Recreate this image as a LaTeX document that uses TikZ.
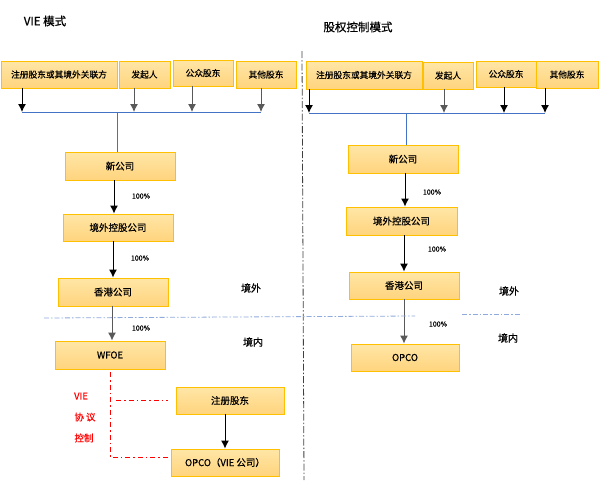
\documentclass[tikz,border=0pt]{standalone}
\usepackage{fontspec}
\setmainfont{Noto Sans CJK SC}[FakeBold=0.6]
\usetikzlibrary{arrows.meta}
\definecolor{boxline}{HTML}{FFC000}
\definecolor{boxtop}{HTML}{FFE6A6}
\definecolor{boxbot}{HTML}{FFD47E}
\definecolor{busblue}{HTML}{4472C4}
\definecolor{lineblue}{HTML}{8FAADC}
\definecolor{ctrlred}{HTML}{FF0000}
\definecolor{shaftgray}{HTML}{595959}

\begin{document}
\begin{tikzpicture}[x=1pt,y=-1pt,
    box/.style={draw=boxline,line width=0.9pt,top color=boxtop,bottom color=boxbot,
      inner sep=0pt,minimum height=27pt,font=\fontsize{9.5}{11}\selectfont},
    topbox/.style={box,font=\fontsize{8.7}{10}\selectfont},
    arr/.style={-{Latex[length=8pt,width=8pt]},line width=1pt},
    grayarr/.style={arr,draw=shaftgray},
    bus/.style={draw=busblue,line width=0.8pt},
    pct/.style={font=\fontsize{7}{8}\selectfont},
    side/.style={font=\fontsize{10}{12}\selectfont},
    title/.style={font=\fontsize{11.5}{13}\selectfont},
    divide/.style={draw=lineblue,line width=0.8pt,dash pattern=on 5pt off 2pt on 1.5pt off 2pt},
    sep/.style={draw=black!75,line width=0.8pt,dash pattern=on 7pt off 2pt on 1.5pt off 2pt},
    ctrl/.style={draw=ctrlred,line width=0.8pt,dash pattern=on 5pt off 3pt on 1.5pt off 3pt},
    ctrltext/.style={text=ctrlred,font=\fontsize{9.5}{11}\selectfont}]
  \useasboundingbox (0,0) rectangle (604,480);

  \node[title] (tvie) at (45,21) {VIE 模式};
  \node[title] (tgq) at (358,27) {股权控制模式};

  \draw[sep] (302,51) -- (304,480);

  % VIE
  \node[topbox,minimum width=116pt] (lsh1) at (59,74.5) {注册股东或其境外关联方};
  \node[topbox,minimum width=51pt] (lsh2) at (144.5,74.5) {发起人};
  \node[topbox,minimum width=60pt,minimum height=26pt] (lsh3) at (203,73) {公众股东};
  \node[topbox,minimum width=60pt] (lsh4) at (266,74.5) {其他股东};

  \coordinate (lbus1) at (22,112);
  \coordinate (lbus2) at (134,112);
  \coordinate (lbus3) at (192,112);
  \coordinate (lbus4) at (261,112);
  \draw[arr] (lsh1.south -| lbus1) -- (lbus1);
  \draw[grayarr] (lsh2.south -| lbus2) -- (lbus2);
  \draw[grayarr] (lsh3.south -| lbus3) -- (lbus3);
  \draw[grayarr] (lsh4.south -| lbus4) -- (lbus4);
  \draw[bus] (lbus1) -- (lbus4);

  \node[box,minimum width=110pt,minimum height=28pt] (ln1) at (120,166) {新公司};
  \node[box,minimum width=110pt] (lh) at (118,227.5) {境外控股公司};
  \node[box,minimum width=110pt,minimum height=28pt] (lk) at (113,292) {香港公司};
  \node[box,minimum width=110pt,minimum height=28pt] (lw) at (110,355) {WFOE};
  \node[box,minimum width=108pt] (lr) at (230,400.5) {注册股东};
  \node[box,minimum width=108pt] (lo) at (225,462.5) {OPCO（VIE 公司）};

  \draw[bus] ([xshift=-3pt]ln1.north) -- ([xshift=-3pt]ln1.north |- lbus1);
  \draw[arr] ([xshift=-6pt]ln1.south) -- ([xshift=-6pt]ln1.south |- lh.north);
  \draw[arr] ([xshift=-5pt]lh.south) -- ([xshift=-5pt]lh.south |- lk.north);
  \draw[grayarr] ([xshift=-1pt]lk.south) -- ([xshift=-1pt]lk.south |- lw.north);
  \draw[arr] ([xshift=-5pt]lr.south) -- ([xshift=-5pt]lr.south |- lo.north);

  \node[pct] (lp1) at (141,196) {100\%};
  \node[pct] (lp2) at (140,258) {100\%};
  \node[pct] (lp3) at (141,328) {100\%};
  \node[side] (lout) at (251,288) {境外};
  \node[side] (lin) at (253,342) {境内};

  \draw[ctrl] ([yshift=-3pt]lw.south) |- ([yshift=5.5pt]lo.west);
  \draw[ctrl] ([xshift=6pt]lw.south |- lr.west) -- ([xshift=-8pt]lr.west);
  \node[ctrltext] (tv) at (81,396) {VIE};
  \node[ctrltext] (tx) at (85,417) {协 议};
  \node[ctrltext] (tk) at (84,438) {控制};

  % equity control
  \node[topbox,minimum width=116pt,minimum height=28pt] (rsh1) at (364,75) {注册股东或其境外关联方};
  \node[topbox,minimum width=50pt] (rsh2) at (448,75.5) {发起人};
  \node[topbox,minimum width=60pt,minimum height=26pt] (rsh3) at (506,74) {公众股东};
  \node[topbox,minimum width=62pt] (rsh4) at (567,74.5) {其他股东};

  \coordinate (rbus1) at (309,113);
  \coordinate (rbus2) at (444,113);
  \coordinate (rbus3) at (504,113);
  \coordinate (rbus4) at (545,113);
  \draw[arr] (rsh1.south -| rbus1) -- (rbus1);
  \draw[grayarr] (rsh2.south -| rbus2) -- (rbus2);
  \draw[arr] (rsh3.south -| rbus3) -- (rbus3);
  \draw[arr] (rsh4.south -| rbus4) -- (rbus4);
  \draw[bus] (rbus1) -- (rbus4);

  \node[box,minimum width=110pt,minimum height=28pt] (rn1) at (403,159) {新公司};
  \node[box,minimum width=111pt,minimum height=28pt] (rh) at (401.5,221) {境外控股公司};
  \node[box,minimum width=110pt] (rk) at (404,285.5) {香港公司};
  \node[box,minimum width=108pt] (ro) at (405,357.5) {OPCO};

  \draw[bus] ([xshift=3pt]rn1.north) -- ([xshift=3pt]rn1.north |- rbus1);
  \draw[arr] ([xshift=2pt]rn1.south) -- ([xshift=2pt]rn1.south |- rh.north);
  \draw[arr] ([xshift=2.5pt]rh.south) -- ([xshift=2.5pt]rh.south |- rk.north);
  \draw[grayarr] (rk.south) -- (rk.south |- ro.north);

  \node[pct] (rp1) at (432,192) {100\%};
  \node[pct] (rp2) at (437,249) {100\%};
  \node[pct] (rp3) at (438,324) {100\%};
  \node[side] (rout) at (509,291) {境外};
  \node[side] (rin) at (508,338) {境内};

  \draw[divide] (44,318) -- (415,316);
  \draw[divide] (462,314) -- (521,314);
\end{tikzpicture}
\end{document}
